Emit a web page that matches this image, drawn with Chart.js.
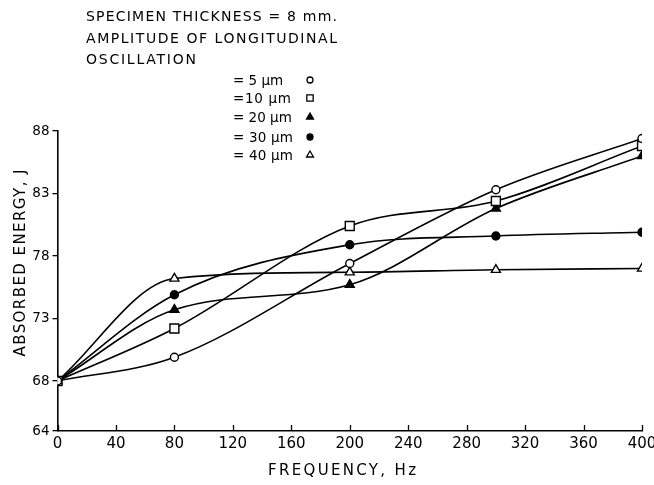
<!DOCTYPE html>
<html>
<head>
<meta charset="utf-8">
<script src="https://cdn.jsdelivr.net/npm/chart.js@4/dist/chart.umd.min.js"></script>
<style>
  html, body { margin: 0; padding: 0; background: #fff; }
  #wrap { width: 654px; height: 485px; position: relative; }
</style>
</head>
<body>
<div id="wrap"><canvas id="c" width="654" height="485"></canvas></div>
<script>
// ---- data ----
const frequencies = [0, 80, 200, 300, 400];
const energy5um  = [68, 69.9, 77.4, 83.3, 87.4];
const energy10um = [68, 72.2, 80.4, 82.4, 86.8];
const energy20um = [68, 73.7, 75.7, 81.8, 86.0];
const energy30um = [68, 74.9, 78.9, 79.6, 79.9];
const energy40um = [68, 76.2, 76.7, 76.9, 77.0];
const yTickValues = [64, 68, 73, 78, 83, 88];
const xTickValues = [0, 40, 80, 120, 160, 200, 240, 280, 320, 360, 400];
const seriesLabels = ['= 5 µm', '=10 µm', '= 20 µm', '= 30 µm', '= 40 µm'];
const headingLines = ['SPECIMEN THICKNESS = 8 mm.', 'AMPLITUDE OF LONGITUDINAL', 'OSCILLATION'];
const xTitle = 'FREQUENCY, Hz';
const yTitle = 'ABSORBED ENERGY, J';

const FONT = '"DejaVu Sans", "Liberation Sans", sans-serif';
const toPts = ys => frequencies.map((f, i) => ({ x: f, y: ys[i] }));

function mkSet(label, ys, style, filled, radius) {
  return {
    label, data: toPts(ys),
    borderColor: '#000', borderWidth: 1.6,
    pointStyle: style, pointRadius: radius, pointHoverRadius: radius,
    pointBackgroundColor: filled ? '#000' : '#fff',
    pointBorderColor: '#000', pointBorderWidth: 1.4,
    cubicInterpolationMode: 'monotone', fill: false
  };
}

const datasets = [
  mkSet(seriesLabels[0], energy5um, 'circle', false, 4),
  mkSet(seriesLabels[1], energy10um, 'rect', false, 6.3),
  mkSet(seriesLabels[2], energy20um, 'triangle', true, 5.2),
  mkSet(seriesLabels[3], energy30um, 'circle', true, 4),
  mkSet(seriesLabels[4], energy40um, 'triangle', false, 5.2)
];

function fitText(ctx, text, x, y, targetW, align) {
  ctx.letterSpacing = '0px';
  const w = ctx.measureText(text).width;
  const ls = Math.max(0, (targetW - w) / Math.max(1, text.length - 1));
  ctx.letterSpacing = ls + 'px';
  const total = w + ls * (text.length - 1);
  let sx = x;
  if (align === 'center') sx = x - total / 2;
  ctx.textAlign = 'left';
  ctx.fillText(text, sx, y);
  ctx.letterSpacing = '0px';
}

const annotations = {
  id: 'annotations',
  afterDraw(chart) {
    const ctx = chart.ctx;
    const xs = chart.scales.x;
    ctx.save();
    ctx.fillStyle = '#000';
    ctx.strokeStyle = '#000';
    // inward x ticks
    ctx.lineWidth = 1.3;
    const yb = chart.chartArea.bottom;
    xTickValues.forEach(v => {
      const px = Math.round(xs.getPixelForValue(v)) + 0.5;
      ctx.beginPath();
      ctx.moveTo(px, yb);
      ctx.lineTo(px, yb - 6);
      ctx.stroke();
    });
    ctx.textBaseline = 'alphabetic';
    // heading
    const hs = 14;
    ctx.font = hs + 'px ' + FONT;
    const cap1 = hs * 0.73;
    const headCenters = [16, 38, 59];
    const headWidths = [251, 251, 110];
    headingLines.forEach((t, i) => fitText(ctx, t, 86, headCenters[i] + cap1 / 2, headWidths[i], 'left'));
    // legend
    const ls = 13.5;
    ctx.font = ls + 'px ' + FONT;
    const cap2 = ls * 0.73;
    const legCenters = [80, 98, 117, 137, 155];
    const legWidths = [35, 58, 58, 60, 60];
    seriesLabels.forEach((t, i) => {
      fitText(ctx, t, 233, legCenters[i] + cap2 / 2, legWidths[i], 'left');
      const ds = datasets[i];
      ctx.lineWidth = 1.3;
      ctx.fillStyle = ds.pointBackgroundColor;
      ctx.strokeStyle = '#000';
      const r = ds.pointStyle === 'rect' ? 4.5 : (ds.pointStyle === 'triangle' ? 4 : 3);
      Chart.helpers.drawPoint(ctx, { pointStyle: ds.pointStyle, radius: r, rotation: 0, borderWidth: 1.3 }, 310, legCenters[i]);
      ctx.fillStyle = '#000';
    });
    // axis titles
    const ts = 15;
    ctx.font = ts + 'px ' + FONT;
    const cap3 = ts * 0.73;
    fitText(ctx, xTitle, 342, 470 + cap3 / 2, 148, 'center');
    ctx.save();
    ctx.translate(20, 263);
    ctx.rotate(-Math.PI / 2);
    fitText(ctx, yTitle, 0, cap3 / 2, 187, 'center');
    ctx.restore();
    ctx.restore();
  }
};

new Chart(document.getElementById('c'), {
  type: 'line',
  data: { datasets },
  options: {
    responsive: false,
    animation: false,
    devicePixelRatio: 1,
    layout: { padding: { top: 131, right: 12, left: 0, bottom: 0 } },
    plugins: { legend: { display: false }, tooltip: { enabled: false }, title: { display: false } },
    scales: {
      x: {
        type: 'linear', min: 0, max: 400,
        afterBuildTicks: s => { s.ticks = xTickValues.map(v => ({ value: v })); },
        afterFit: s => { s.height = 54; s.paddingLeft = 0; s.paddingRight = 0; },
        grid: { drawOnChartArea: false, drawTicks: false, color: '#000' },
        border: { display: true, color: '#000', width: 1.6 },
        ticks: { color: '#000', font: { family: FONT, size: 15 }, padding: 4, maxRotation: 0, autoSkip: false }
      },
      y: {
        type: 'linear', min: 64, max: 88,
        afterBuildTicks: s => { s.ticks = yTickValues.map(v => ({ value: v })); },
        afterFit: s => { s.width = 57.5; s.paddingTop = 0; s.paddingBottom = 0; },
        grid: { drawOnChartArea: false, drawTicks: true, tickLength: 5, color: '#000', lineWidth: 1.3 },
        border: { display: true, color: '#000', width: 1.6 },
        ticks: { color: '#000', font: { family: FONT, size: 13.5 }, padding: 3, autoSkip: false }
      }
    }
  },
  plugins: [annotations]
});
</script>
</body>
</html>
